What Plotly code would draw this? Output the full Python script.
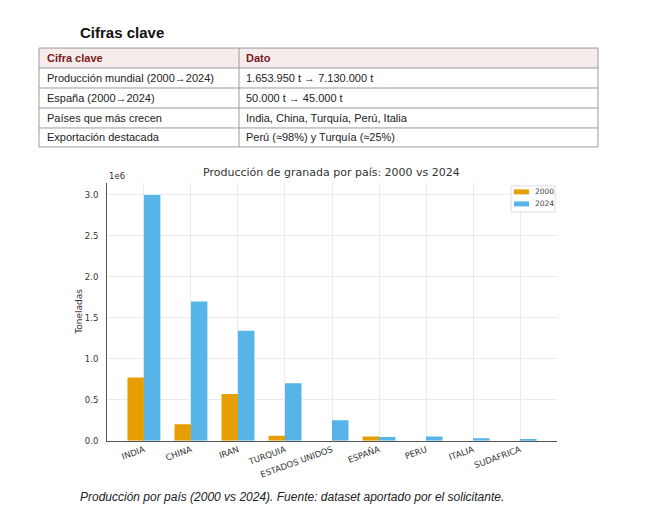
import plotly.graph_objects as go

# ---- data ----
countries = ["INDIA", "CHINA", "IRAN", "TURQUIA", "ESTADOS UNIDOS", "ESPAÑA", "PERU", "ITALIA", "SUDAFRICA"]
prod_2000 = [770000, 200000, 570000, 60000, 0, 50000, 0, 0, 0]
prod_2024 = [3000000, 1700000, 1340000, 700000, 250000, 45000, 50000, 30000, 20000]
series_names = ["2000", "2024"]
series_colors = ["#E69F00", "#56B4E9"]
y_ticks = [0, 500000, 1000000, 1500000, 2000000, 2500000, 3000000]
y_tick_labels = ["0.0", "0.5", "1.0", "1.5", "2.0", "2.5", "3.0"]

table_header = ["Cifra clave", "Dato"]
table_col1 = ["Producción mundial (2000→2024)", "España (2000→2024)", "Países que más crecen", "Exportación destacada"]
table_col2 = ["1.653.950 t → 7.130.000 t", "50.000 t → 45.000 t", "India, China, Turquía, Perú, Italia", "Perú (≈98%) y Turquía (≈25%)"]

OFF = 8  # page body margin
VS = 0.991  # empirical vertical correction
W, H = 657 - OFF, 517 - 2 * OFF
def px(x):
    return (x - OFF) / W
def py(y):
    return 1 - (y / VS - OFF) / H

fig = go.Figure()
for name, vals, col in zip(series_names, [prod_2000, prod_2024], series_colors):
    fig.add_trace(go.Bar(name=name, x=countries, y=vals, marker_color=col, marker_line_width=0))

chart_font = "DejaVu Sans"
table_font = "Liberation Sans, Arial"

fig.update_layout(
    width=W, height=H,
    margin=dict(l=0, r=0, t=0, b=0),
    paper_bgcolor="white", plot_bgcolor="white",
    barmode="group", bargap=0.3, bargroupgap=0,
    font=dict(family=chart_font, color="#333333", size=9),
    showlegend=False,
)
fig.update_xaxes(
    domain=[px(107), px(557)],
    range=[-0.785, 8.785],
    tickangle=-20,
    tickfont=dict(size=8.5, family=chart_font, color="#333333"),
    showgrid=True, gridcolor="#ebebeb", gridwidth=1,
    showline=True, linecolor="#555555", linewidth=1,
    ticks="", zeroline=False, ticklabelstandoff=0,
)
fig.update_yaxes(
    domain=[py(441), py(182.7)],
    range=[0, 3150000],
    tickvals=y_ticks, ticktext=y_tick_labels,
    tickfont=dict(size=8.5, family=chart_font, color="#333333"),
    showgrid=True, gridcolor="#ebebeb", gridwidth=1,
    showline=True, linecolor="#555555", linewidth=1,
    ticks="", zeroline=False, ticklabelstandoff=6,
)

ann = []
shapes = []
# chart title
ann.append(dict(x=px(331), y=py(173), xref="paper", yref="paper", text="Producción de granada por país: 2000 vs 2024",
                showarrow=False, font=dict(size=11, family=chart_font, color="#333333"), xanchor="center", yanchor="middle"))
ann.append(dict(x=px(107), y=py(176), xref="paper", yref="paper", text="1e6", showarrow=False,
                font=dict(size=8.5, family=chart_font, color="#333333"), xanchor="left", yanchor="middle"))
ann.append(dict(x=px(79), y=py(312), xref="paper", yref="paper", text="Toneladas", showarrow=False, textangle=-90,
                font=dict(size=9, family=chart_font, color="#333333"), xanchor="center", yanchor="middle"))
# legend (drawn)
shapes.append(dict(type="rect", xref="paper", yref="paper", x0=px(511), x1=px(555), y0=py(212), y1=py(186),
                   fillcolor="white", line=dict(color="#dddddd", width=1)))
for i, (name, col) in enumerate(zip(series_names, series_colors)):
    yc = 192 + 12 * i
    shapes.append(dict(type="rect", xref="paper", yref="paper", x0=px(514), x1=px(529), y0=py(yc + 2.5), y1=py(yc - 2.5),
                       fillcolor=col, line=dict(width=0)))
    ann.append(dict(x=px(533), y=py(yc), xref="paper", yref="paper", text=name, showarrow=False,
                    font=dict(size=7.5, family=chart_font, color="#444444"), xanchor="left", yanchor="middle"))
# caption
ann.append(dict(x=px(78), y=py(497), xref="paper", yref="paper",
                text="<i>Producción por país (2000 vs 2024). Fuente: dataset aportado por el solicitante.</i>",
                showarrow=False, font=dict(size=12, family=table_font, color="#222222"), xanchor="left", yanchor="middle"))
# section title
ann.append(dict(x=px(78), y=py(32), xref="paper", yref="paper", text="<b>Cifras clave</b>", showarrow=False,
                font=dict(size=15, family=table_font, color="#111111"), xanchor="left", yanchor="middle"))

# table
tl, tr, tm = 39, 598, 239
row_edges = [48, 68, 88, 108, 128, 147]
shapes.append(dict(type="rect", xref="paper", yref="paper", x0=px(tl), x1=px(tr), y0=py(row_edges[1]), y1=py(row_edges[0]),
                   fillcolor="#f7ecec", line=dict(width=0), layer="below"))
for ye in row_edges:
    shapes.append(dict(type="line", xref="paper", yref="paper", x0=px(tl), x1=px(tr), y0=py(ye), y1=py(ye),
                       line=dict(color="#9a9a9a", width=1)))
for xe in [tl, tm, tr]:
    shapes.append(dict(type="line", xref="paper", yref="paper", x0=px(xe), x1=px(xe), y0=py(row_edges[0]), y1=py(row_edges[-1]),
                       line=dict(color="#9a9a9a", width=1)))
hy = (row_edges[0] + row_edges[1]) / 2
ann.append(dict(x=px(45), y=py(hy), xref="paper", yref="paper", text="<b>" + table_header[0] + "</b>", showarrow=False,
                font=dict(size=11, family=table_font, color="#7a1c1c"), xanchor="left", yanchor="middle"))
ann.append(dict(x=px(244), y=py(hy), xref="paper", yref="paper", text="<b>" + table_header[1] + "</b>", showarrow=False,
                font=dict(size=11, family=table_font, color="#7a1c1c"), xanchor="left", yanchor="middle"))
for i, (a, b) in enumerate(zip(table_col1, table_col2)):
    yc = (row_edges[i + 1] + row_edges[i + 2]) / 2
    ann.append(dict(x=px(45), y=py(yc), xref="paper", yref="paper", text=a, showarrow=False,
                    font=dict(size=11, family=table_font, color="#222222"), xanchor="left", yanchor="middle"))
    ann.append(dict(x=px(244), y=py(yc), xref="paper", yref="paper", text=b, showarrow=False,
                    font=dict(size=11, family=table_font, color="#222222"), xanchor="left", yanchor="middle"))

fig.update_layout(annotations=ann, shapes=shapes)
fig.write_html("out.html")
